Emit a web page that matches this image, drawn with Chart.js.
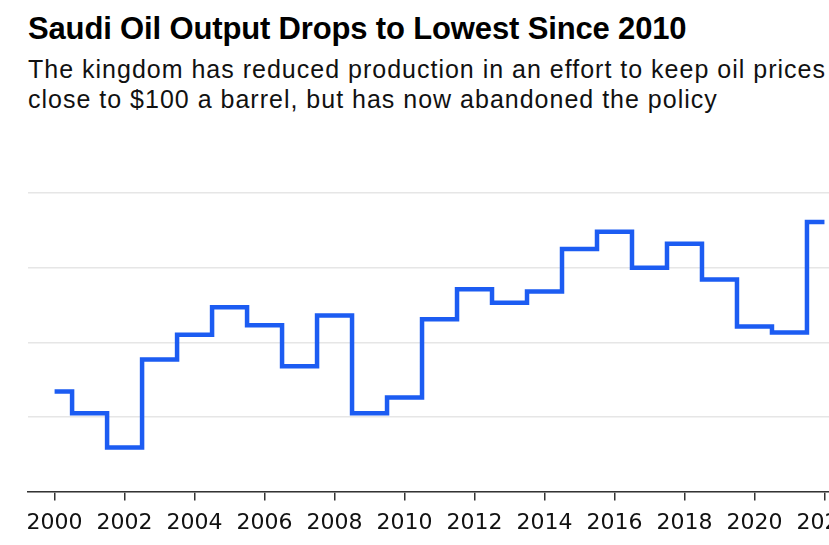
<!DOCTYPE html>
<html>
<head>
<meta charset="utf-8">
<script src="https://cdn.jsdelivr.net/npm/chart.js@4"></script>
<style>
  html, body { margin: 0; padding: 0; background: #fff; overflow: hidden; }
  body { width: 829px; height: 545px; position: relative; }
  #title {
    position: absolute; left: 28px; top: 11px; white-space: nowrap;
    font: bold 31px "Liberation Sans", Arial, sans-serif; color: #000;
    letter-spacing: -0.15px;
  }
  #subtitle {
    position: absolute; left: 28px; top: 54px; white-space: nowrap;
    font: 25px/30px "Liberation Sans", Arial, sans-serif; color: #111;
    letter-spacing: 1px;
  }
  #wrap { position: absolute; left: 0; top: 180px; width: 940px; height: 365px; }
</style>
</head>
<body>
<div id="title">Saudi Oil Output Drops to Lowest Since 2010</div>
<div id="subtitle">The kingdom has reduced production in an effort to keep oil prices<br>close to $100 a barrel, but has now abandoned the policy</div>
<div id="wrap"><canvas id="chart"></canvas></div>
<script>
// annual crude output, million barrels a day
const years = [2000, 2001, 2002, 2003, 2004, 2005, 2006, 2007, 2008, 2009, 2010,
  2011, 2012, 2013, 2014, 2015, 2016, 2017, 2018, 2019, 2020, 2021, 2022]
const output = [7.34, 7.05, 6.59, 7.77, 8.10, 8.47, 8.23, 7.68, 8.36, 7.05, 7.26,
  8.31, 8.71, 8.53, 8.68, 9.25, 9.48, 9.00, 9.32, 8.84, 8.21, 8.13, 9.61]
const tickYears = [2000, 2002, 2004, 2006, 2008, 2010, 2012, 2014, 2016, 2018, 2020, 2022, 2024]
const gridValues = [6, 7, 8, 9, 10]

const points = years.map((y, i) => ({ x: y, y: output[i] }))

const config = {
  type: 'line',
  data: {
    datasets: [{
      data: points,
      stepped: 'middle',
      borderColor: '#1c5cf2',
      borderWidth: 4.5,
      borderJoinStyle: 'miter',
      pointRadius: 0,
      fill: false
    }]
  },
  options: {
    responsive: true,
    maintainAspectRatio: false,
    animation: false,
    layout: { padding: { left: 28, right: 20, top: 13, bottom: 0 } },
    plugins: { legend: { display: false }, tooltip: { enabled: false } },
    scales: {
      x: {
        type: 'linear',
        min: 1999.24,
        max: 2024.73,
        afterBuildTicks: s => { s.ticks = tickYears.map(v => ({ value: v })) },
        grid: { drawOnChartArea: false, drawTicks: true, tickLength: 9, color: '#333', lineWidth: 1.5 },
        border: { display: true, color: '#333', width: 1.5 },
        ticks: {
          padding: 9,
          color: '#111',
          maxRotation: 0,
          autoSkip: false,
          font: { family: 'DejaVu Sans', size: 22 },
          callback: v => String(v)
        }
      },
      y: {
        position: 'right',
        min: 6,
        max: 10,
        afterBuildTicks: s => { s.ticks = gridValues.map(v => ({ value: v })) },
        grid: { color: '#e6e6e6', lineWidth: 1.5, drawTicks: false },
        border: { display: false },
        ticks: { display: false }
      }
    }
  }
}

let chart = new Chart(document.querySelector('#chart'), config)
</script>
</body>
</html>
